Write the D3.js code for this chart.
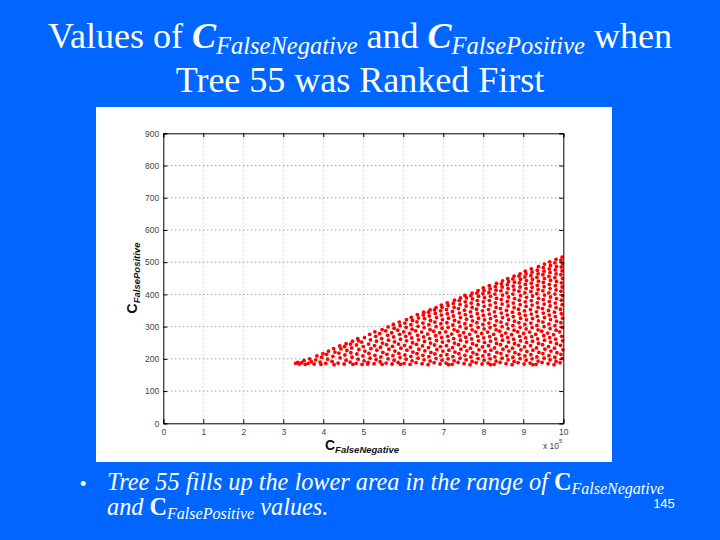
<!DOCTYPE html>
<html><head><meta charset="utf-8">
<script src="https://cdn.jsdelivr.net/npm/d3@7"></script>
<style>body{margin:0;background:#0066ff;} svg{display:block}</style>
</head><body><svg id="c" width="720" height="540"></svg>
<script>
const xTicks = [0,1,2,3,4,5,6,7,8,9,10];
const yTicks = [0,100,200,300,400,500,600,700,800,900];
const xExponent = "5";
// [C_FalseNegative (x10^5), C_FalsePositive]
const points = [
[3.31,186],[3.36,189],[3.40,184],
[3.46,188],[3.52,195],[3.55,183],
[3.62,186],[3.66,200],[3.70,191],
[3.77,184],[3.81,197],[3.84,209],
[3.92,190],[3.96,205],[3.99,216],[3.94,183],
[4.06,186],[4.11,199],[4.08,214],[4.13,224],
[4.22,192],[4.27,182],[4.24,208],[4.29,221],[4.26,232],
[4.37,187],[4.42,203],[4.39,218],[4.44,231],[4.41,240],
[4.52,184],[4.57,196],[4.54,212],[4.59,226],[4.53,238],[4.57,247],
[4.67,190],[4.72,205],[4.69,219],[4.74,183],[4.71,234],[4.68,246],[4.73,255],
[4.82,186],[4.87,199],[4.84,215],[4.89,229],[4.83,243],[4.88,256],[4.86,263],
[4.97,183],[5.02,194],[4.99,209],[5.04,224],[5.00,238],[4.96,252],[5.03,266],
[5.12,189],[5.17,202],[5.14,217],[5.19,232],[5.13,246],[5.18,259],[5.16,276],[5.11,184],
[5.27,185],[5.32,198],[5.29,211],[5.34,227],[5.28,241],[5.33,255],[5.31,270],[5.29,284],
[5.42,191],[5.47,183],[5.44,206],[5.49,220],[5.43,236],[5.48,249],[5.46,263],[5.41,278],[5.47,291],
[5.57,187],[5.62,200],[5.59,214],[5.64,230],[5.58,244],[5.63,258],[5.61,273],[5.56,287],[5.62,299],
[5.72,184],[5.77,196],[5.74,210],[5.79,224],[5.73,239],[5.78,253],[5.76,268],[5.71,281],[5.77,295],[5.75,307],
[5.87,189],[5.92,204],[5.89,217],[5.94,233],[5.88,246],[5.93,261],[5.91,276],[5.86,289],[5.92,303],[5.90,314],[5.93,183],
[6.02,186],[6.07,199],[6.04,212],[6.09,227],[6.03,242],[6.08,256],[6.06,270],[6.01,284],[6.07,298],[6.04,311],[6.08,322],
[6.17,183],[6.22,194],[6.19,208],[6.24,221],[6.18,236],[6.23,250],[6.21,265],[6.16,279],[6.22,292],[6.19,306],[6.23,319],[6.20,329],
[6.32,188],[6.37,202],[6.34,216],[6.39,230],[6.33,245],[6.38,259],[6.36,273],[6.31,287],[6.37,301],[6.34,315],[6.38,327],[6.35,337],
[6.47,185],[6.52,197],[6.49,211],[6.54,225],[6.48,240],[6.53,254],[6.51,268],[6.46,283],[6.52,297],[6.49,311],[6.53,325],[6.50,336],[6.51,345],
[6.62,182],[6.67,193],[6.64,207],[6.69,220],[6.63,235],[6.68,249],[6.66,263],[6.61,277],[6.67,291],[6.64,306],[6.68,319],[6.65,333],[6.63,345],[6.67,352],
[6.77,188],[6.82,201],[6.79,215],[6.84,229],[6.78,243],[6.83,257],[6.81,272],[6.76,286],[6.82,300],[6.79,314],[6.83,328],[6.80,341],[6.78,352],[6.82,359],
[6.92,184],[6.97,196],[6.94,210],[6.99,224],[6.93,238],[6.98,252],[6.96,266],[6.91,281],[6.97,295],[6.94,309],[6.98,322],[6.95,336],[6.93,349],[6.97,360],[6.95,367],
[7.07,187],[7.12,200],[7.09,213],[7.14,227],[7.08,241],[7.13,256],[7.11,270],[7.06,284],[7.12,298],[7.09,312],[7.13,326],[7.10,340],[7.08,353],[7.12,365],[7.10,374],[7.13,182],
[7.22,183],[7.27,194],[7.24,207],[7.29,221],[7.23,235],[7.28,249],[7.26,263],[7.21,277],[7.27,291],[7.24,305],[7.28,319],[7.25,333],[7.23,347],[7.27,360],[7.25,372],[7.28,382],
[7.37,189],[7.42,202],[7.39,216],[7.44,230],[7.38,244],[7.43,258],[7.41,272],[7.36,286],[7.42,300],[7.39,314],[7.43,328],[7.40,342],[7.38,356],[7.42,369],[7.40,381],[7.43,389],
[7.52,185],[7.57,197],[7.54,211],[7.59,225],[7.53,239],[7.58,253],[7.56,267],[7.51,281],[7.57,295],[7.54,309],[7.58,323],[7.55,337],[7.53,351],[7.57,364],[7.55,377],[7.58,389],[7.54,397],
[7.67,182],[7.72,192],[7.69,206],[7.74,219],[7.68,233],[7.73,247],[7.71,262],[7.66,276],[7.72,290],[7.69,304],[7.73,318],[7.70,332],[7.68,346],[7.72,360],[7.70,373],[7.73,386],[7.69,396],[7.72,404],
[7.82,188],[7.87,201],[7.84,214],[7.89,228],[7.83,242],[7.88,256],[7.86,270],[7.81,284],[7.87,298],[7.84,312],[7.88,326],[7.85,340],[7.83,354],[7.87,368],[7.85,381],[7.88,394],[7.84,404],[7.87,412],
[7.97,184],[8.02,196],[7.99,209],[8.04,223],[7.98,237],[8.03,251],[8.01,265],[7.96,279],[8.02,293],[7.99,307],[8.03,321],[8.00,335],[7.98,349],[8.02,363],[8.00,377],[8.03,390],[7.99,402],[8.02,412],[8.00,420],
[8.12,187],[8.17,200],[8.14,213],[8.19,227],[8.13,241],[8.18,255],[8.16,269],[8.11,283],[8.17,297],[8.14,311],[8.18,325],[8.15,339],[8.13,353],[8.17,367],[8.15,381],[8.18,394],[8.14,406],[8.17,417],[8.15,427],[8.18,182],
[8.27,183],[8.32,193],[8.29,206],[8.34,220],[8.28,234],[8.33,248],[8.31,262],[8.26,276],[8.32,290],[8.29,304],[8.33,318],[8.30,332],[8.28,346],[8.32,360],[8.30,374],[8.33,388],[8.29,401],[8.32,413],[8.30,424],[8.33,434],
[8.42,189],[8.47,202],[8.44,216],[8.49,230],[8.43,244],[8.48,258],[8.46,272],[8.41,286],[8.47,300],[8.44,314],[8.48,328],[8.45,342],[8.43,356],[8.47,370],[8.45,384],[8.48,398],[8.44,411],[8.47,423],[8.45,433],[8.48,442],
[8.57,185],[8.62,197],[8.59,210],[8.64,224],[8.58,238],[8.63,252],[8.61,266],[8.56,280],[8.62,294],[8.59,308],[8.63,322],[8.60,336],[8.58,350],[8.62,364],[8.60,378],[8.63,392],[8.59,405],[8.62,418],[8.60,430],[8.63,440],[8.61,449],
[8.72,182],[8.77,192],[8.74,205],[8.79,219],[8.73,233],[8.78,247],[8.76,261],[8.71,275],[8.77,289],[8.74,303],[8.78,317],[8.75,331],[8.73,345],[8.77,359],[8.75,373],[8.78,387],[8.74,401],[8.77,414],[8.75,426],[8.78,438],[8.74,448],[8.77,457],
[8.87,188],[8.92,201],[8.89,214],[8.94,228],[8.88,242],[8.93,256],[8.91,270],[8.86,284],[8.92,298],[8.89,312],[8.93,326],[8.90,340],[8.88,354],[8.92,368],[8.90,382],[8.93,396],[8.89,410],[8.92,423],[8.90,436],[8.93,447],[8.89,457],[8.92,464],
[9.02,184],[9.07,196],[9.04,209],[9.09,223],[9.03,237],[9.08,251],[9.06,265],[9.01,279],[9.07,293],[9.04,307],[9.08,321],[9.05,335],[9.03,349],[9.07,363],[9.05,377],[9.08,391],[9.04,405],[9.07,418],[9.05,431],[9.08,443],[9.04,454],[9.07,464],[9.05,472],
[9.17,187],[9.22,200],[9.19,213],[9.24,227],[9.18,241],[9.23,255],[9.21,269],[9.16,283],[9.22,297],[9.19,311],[9.23,325],[9.20,339],[9.18,353],[9.22,367],[9.20,381],[9.23,395],[9.19,409],[9.22,422],[9.20,435],[9.23,447],[9.19,458],[9.22,469],[9.20,479],[9.24,182],
[9.32,183],[9.37,193],[9.34,206],[9.39,220],[9.33,234],[9.38,248],[9.36,262],[9.31,276],[9.37,290],[9.34,304],[9.38,318],[9.35,332],[9.33,346],[9.37,360],[9.35,374],[9.38,388],[9.34,402],[9.37,415],[9.35,428],[9.38,441],[9.34,453],[9.37,464],[9.35,475],[9.38,486],
[9.47,189],[9.52,202],[9.49,216],[9.54,230],[9.48,244],[9.53,258],[9.51,272],[9.46,286],[9.52,300],[9.49,314],[9.53,328],[9.50,342],[9.48,356],[9.52,370],[9.50,384],[9.53,398],[9.49,411],[9.52,424],[9.50,437],[9.53,449],[9.49,461],[9.52,472],[9.50,483],[9.53,494],
[9.62,185],[9.67,197],[9.64,210],[9.69,224],[9.63,238],[9.68,252],[9.66,266],[9.61,280],[9.67,294],[9.64,308],[9.68,322],[9.65,336],[9.63,350],[9.67,364],[9.65,378],[9.68,392],[9.64,405],[9.67,418],[9.65,431],[9.68,444],[9.64,456],[9.67,468],[9.65,479],[9.68,490],[9.66,501],
[9.77,182],[9.82,192],[9.79,205],[9.84,219],[9.78,233],[9.83,247],[9.81,261],[9.76,275],[9.82,289],[9.79,303],[9.83,317],[9.80,331],[9.78,345],[9.82,359],[9.80,373],[9.83,387],[9.79,401],[9.82,414],[9.80,427],[9.83,440],[9.79,452],[9.82,464],[9.80,476],[9.83,487],[9.79,498],[9.82,509],
[9.92,188],[9.97,201],[9.94,214],[9.99,228],[9.93,242],[9.98,256],[9.96,270],[9.91,284],[9.97,298],[9.94,312],[9.98,326],[9.95,340],[9.93,354],[9.97,368],[9.95,382],[9.98,396],[9.94,410],[9.97,423],[9.95,436],[9.98,449],[9.94,461],[9.97,473],[9.95,485],[9.98,496],[9.94,506],[9.97,516]
];

const svg = d3.select("#c");
svg.append("rect").attr("width",720).attr("height",540).attr("fill","#0066ff");

const serif = "'Times New Roman','Liberation Serif','DejaVu Serif',serif";
const fontSans = "'Liberation Sans',Arial,sans-serif";

// Title
const t1 = svg.append("text").attr("x",360).attr("y",48).attr("text-anchor","middle")
  .style("font-family",serif).attr("font-size",36).attr("fill","#fff");
t1.append("tspan").text("Values of ");
t1.append("tspan").attr("font-weight","bold").attr("font-style","italic").text("C");
t1.append("tspan").attr("font-style","italic").attr("font-size",24.5).attr("dy",6).text("FalseNegative");
t1.append("tspan").attr("dy",-6).text(" and ");
t1.append("tspan").attr("font-weight","bold").attr("font-style","italic").text("C");
t1.append("tspan").attr("font-style","italic").attr("font-size",24.5).attr("dy",6).text("FalsePositive");
t1.append("tspan").attr("dy",-6).text(" when");
svg.append("text").attr("x",360).attr("y",92).attr("text-anchor","middle")
  .style("font-family",serif).attr("font-size",36).attr("fill","#fff").text("Tree 55 was Ranked First");

// Figure panel
svg.append("rect").attr("x",96).attr("y",107).attr("width",516).attr("height",355).attr("fill","#fff");

const x = d3.scaleLinear().domain([0,10]).range([163.3,563.3]);
const y = d3.scaleLinear().domain([0,900]).range([423.3,133.3]);
const g = svg.append("g");

// grid
g.selectAll(".vg").data(xTicks.slice(1,-1)).enter().append("line")
  .attr("x1",d=>x(d)).attr("x2",d=>x(d)).attr("y1",y(0)).attr("y2",y(900))
  .attr("stroke","#aaa").attr("stroke-width",0.8).attr("stroke-dasharray","1,3");
g.selectAll(".hg").data(yTicks.slice(1,-1)).enter().append("line")
  .attr("y1",d=>y(d)).attr("y2",d=>y(d)).attr("x1",x(0)).attr("x2",x(10))
  .attr("stroke","#555").attr("stroke-width",0.8).attr("stroke-dasharray","1,3");

// points
g.selectAll(".pt").data(points).enter().append("circle")
  .attr("cx",d=>x(d[0])).attr("cy",d=>y(d[1])).attr("r",1.9).attr("fill","#f00");

// axes
const xa = g.append("g").attr("transform",`translate(0,${y(0)})`)
  .call(d3.axisBottom(x).tickValues(xTicks).tickSize(-4).tickPadding(6).tickFormat(d3.format("d")));
const xt = g.append("g").attr("transform",`translate(0,${y(900)})`)
  .call(d3.axisTop(x).tickValues(xTicks).tickSize(-4).tickFormat(""));
const ya = g.append("g").attr("transform",`translate(${x(0)},0)`)
  .call(d3.axisLeft(y).tickValues(yTicks).tickSize(-4).tickPadding(4).tickFormat(d3.format("d")));
const yr = g.append("g").attr("transform",`translate(${x(10)},0)`)
  .call(d3.axisRight(y).tickValues(yTicks).tickSize(-4).tickFormat(""));
[xa,xt,ya,yr].forEach(a=>{
  a.select(".domain").attr("stroke","#000").attr("stroke-width",1);
  a.selectAll(".tick line").attr("stroke","#000");
  a.selectAll("text").attr("font-family",fontSans).attr("font-size",8.5).attr("fill","#444");
});

// axis labels
const xl = svg.append("text").attr("x",362).attr("y",450).attr("text-anchor","middle")
  .attr("font-family",fontSans).attr("font-weight","bold").attr("fill","#111");
xl.append("tspan").attr("font-size",14).text("C");
xl.append("tspan").attr("font-size",9.5).attr("font-style","italic").attr("dy",3).text("FalseNegative");
const yl = svg.append("text").attr("transform","translate(137,278) rotate(-90)").attr("text-anchor","middle")
  .attr("font-family",fontSans).attr("font-weight","bold").attr("fill","#111");
yl.append("tspan").attr("font-size",14).text("C");
yl.append("tspan").attr("font-size",9.5).attr("font-style","italic").attr("dy",3).text("FalsePositive");
const ex = svg.append("text").attr("x",543).attr("y",449).attr("font-family",fontSans).attr("font-size",8.5).attr("fill","#444");
ex.append("tspan").text("x 10");
ex.append("tspan").attr("font-size",6).attr("dy",-6).text(xExponent);

// bullet text
svg.append("text").attr("x",80).attr("y",490).attr("font-family",fontSans).attr("font-size",18).attr("fill","#fff").text("•");
const b1 = svg.append("text").attr("x",107).attr("y",490).style("font-family",serif).attr("font-size",24.3)
  .style("font-style","italic").attr("fill","#fff");
b1.append("tspan").text("Tree 55 fills up the lower area in the range of ");
b1.append("tspan").attr("font-weight","bold").style("font-style","normal").text("C");
b1.append("tspan").attr("font-size",16).attr("dy",4).text("FalseNegative");
const b2 = svg.append("text").attr("x",107).attr("y",515).style("font-family",serif).attr("font-size",24.3)
  .style("font-style","italic").attr("fill","#fff");
b2.append("tspan").text("and ");
b2.append("tspan").attr("font-weight","bold").style("font-style","normal").text("C");
b2.append("tspan").attr("font-size",16).attr("dy",4).text("FalsePositive");
b2.append("tspan").attr("dy",-4).text(" values.");
svg.append("text").attr("x",664).attr("y",508).attr("text-anchor","middle").attr("font-family",fontSans)
  .attr("font-size",13).attr("fill","#fff").text("145");
</script></body></html>
